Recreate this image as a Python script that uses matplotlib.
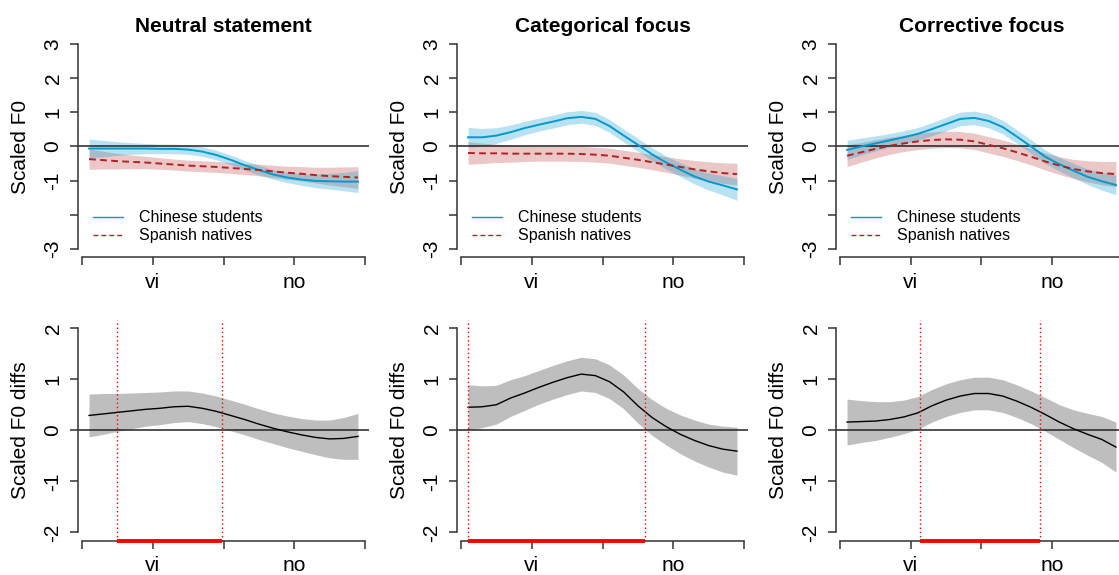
import numpy as np
import matplotlib
matplotlib.use("Agg")
import matplotlib.pyplot as plt

plt.rcParams['font.family'] = ['Liberation Sans', 'DejaVu Sans']

# time axis (normalised, 0..4 with syllables "vi" at 1 and "no" at 3)
t = [0.1, 0.3, 0.5, 0.7, 0.9, 1.1, 1.3, 1.5, 1.7, 1.9,
     2.1, 2.3, 2.5, 2.7, 2.9, 3.1, 3.3, 3.5, 3.7, 3.9]
tick_pos = [0, 1, 2, 3, 4]
tick_lab = ["", "vi", "", "no", ""]

titles = ["Neutral statement", "Categorical focus", "Corrective focus"]
groups = ["Chinese students", "Spanish natives"]

# fitted smooths (scaled F0) and 95% CI half widths
chinese_fit = [
    [-0.06, -0.06, -0.06, -0.06, -0.06, -0.07, -0.07, -0.09, -0.15, -0.25,
     -0.39, -0.55, -0.69, -0.82, -0.91, -0.97, -1.01, -1.02, -1.03, -1.03],
    [0.27, 0.27, 0.32, 0.42, 0.54, 0.64, 0.73, 0.83, 0.87, 0.81,
     0.60, 0.32, 0.05, -0.23, -0.47, -0.68, -0.88, -1.03, -1.14, -1.26],
    [-0.10, 0.00, 0.09, 0.18, 0.27, 0.37, 0.51, 0.66, 0.81, 0.84,
     0.75, 0.57, 0.29, 0.00, -0.30, -0.52, -0.71, -0.89, -1.02, -1.13],
]
chinese_ci = [
    [0.28, 0.24, 0.20, 0.17, 0.15, 0.14, 0.14, 0.14, 0.14, 0.14,
     0.14, 0.14, 0.14, 0.14, 0.15, 0.17, 0.20, 0.23, 0.27, 0.32],
    [0.29, 0.26, 0.23, 0.21, 0.20, 0.19, 0.19, 0.19, 0.19, 0.19,
     0.19, 0.19, 0.19, 0.19, 0.19, 0.20, 0.22, 0.25, 0.28, 0.32],
    [0.28, 0.25, 0.22, 0.20, 0.19, 0.19, 0.19, 0.20, 0.20, 0.20,
     0.20, 0.20, 0.20, 0.20, 0.20, 0.20, 0.21, 0.23, 0.26, 0.29],
]
spanish_fit = [
    [-0.37, -0.40, -0.43, -0.45, -0.47, -0.50, -0.53, -0.56, -0.58, -0.60,
     -0.63, -0.66, -0.69, -0.73, -0.77, -0.80, -0.84, -0.87, -0.89, -0.91],
    [-0.19, -0.20, -0.20, -0.21, -0.21, -0.21, -0.21, -0.21, -0.22, -0.24,
     -0.27, -0.33, -0.39, -0.46, -0.53, -0.60, -0.67, -0.73, -0.78, -0.81],
    [-0.27, -0.17, -0.07, 0.02, 0.09, 0.15, 0.19, 0.21, 0.20, 0.15,
     0.05, -0.05, -0.17, -0.30, -0.44, -0.56, -0.66, -0.73, -0.78, -0.81],
]
spanish_ci = [
    [0.30, 0.26, 0.23, 0.20, 0.18, 0.17, 0.16, 0.16, 0.16, 0.16,
     0.16, 0.16, 0.17, 0.18, 0.19, 0.21, 0.23, 0.26, 0.29, 0.32],
    [0.33, 0.30, 0.27, 0.25, 0.23, 0.22, 0.22, 0.22, 0.22, 0.22,
     0.22, 0.22, 0.22, 0.22, 0.23, 0.24, 0.26, 0.28, 0.30, 0.32],
    [0.32, 0.29, 0.27, 0.25, 0.24, 0.24, 0.24, 0.24, 0.24, 0.24,
     0.24, 0.24, 0.24, 0.24, 0.25, 0.26, 0.28, 0.31, 0.34, 0.37],
]

# difference curves (Chinese - Spanish) and CI half widths
diff_fit = [
    [0.29, 0.32, 0.35, 0.38, 0.41, 0.43, 0.46, 0.47, 0.43, 0.37,
     0.29, 0.21, 0.12, 0.04, -0.03, -0.09, -0.14, -0.17, -0.16, -0.12],
    [0.45, 0.46, 0.50, 0.63, 0.73, 0.84, 0.94, 1.03, 1.10, 1.07,
     0.95, 0.75, 0.48, 0.25, 0.07, -0.08, -0.20, -0.30, -0.37, -0.41],
    [0.16, 0.17, 0.18, 0.21, 0.26, 0.34, 0.48, 0.59, 0.67, 0.72,
     0.72, 0.67, 0.57, 0.45, 0.31, 0.16, 0.03, -0.08, -0.18, -0.33],
]
diff_ci = [
    [0.42, 0.40, 0.37, 0.35, 0.33, 0.32, 0.31, 0.30, 0.30, 0.30,
     0.30, 0.30, 0.30, 0.30, 0.31, 0.32, 0.34, 0.37, 0.41, 0.45],
    [0.44, 0.41, 0.38, 0.36, 0.34, 0.33, 0.33, 0.33, 0.33, 0.33,
     0.33, 0.33, 0.34, 0.35, 0.36, 0.38, 0.40, 0.42, 0.45, 0.47],
    [0.45, 0.41, 0.38, 0.35, 0.33, 0.32, 0.32, 0.32, 0.32, 0.32,
     0.32, 0.32, 0.32, 0.32, 0.33, 0.34, 0.37, 0.41, 0.45, 0.49],
]
# significant difference windows
sig_start = [0.49, 0.10, 1.13]
sig_end = [1.98, 2.60, 2.82]

blue = '#009acd'
red = '#b22222'
axcol = '#333333'
fs = 15

W, H = 1119, 575
fig = plt.figure(figsize=(W / 100, H / 100), dpi=100)

xlim = (-0.052, 4.052)
ax_w = 290.4


def style_axes(ax, ylim, yticks, ylabels, ylab):
    ax.set_xlim(*xlim)
    ax.set_ylim(*ylim)
    for s in ['top', 'right']:
        ax.spines[s].set_visible(False)
    ax.spines['left'].set_bounds(yticks[0], yticks[-1])
    ax.spines['bottom'].set_bounds(tick_pos[0], tick_pos[-1])
    for s in ['left', 'bottom']:
        ax.spines[s].set_color(axcol)
        ax.spines[s].set_linewidth(1.1)
    ax.set_xticks(tick_pos)
    ax.set_xticklabels(tick_lab)
    ax.set_yticks(yticks)
    ax.set_yticklabels(ylabels, rotation=90, va='center')
    ax.tick_params(length=5.8, width=1.1, color=axcol, labelsize=fs, pad=5.5)
    ax.set_ylabel(ylab, fontsize=fs)
    ax.yaxis.set_label_coords(-0.165, 0.5)
    ax.patch.set_alpha(0)


for i in range(3):
    left = (78.3 + 379 * i) / W

    # top row: smooths per group
    ax = fig.add_axes([left, 1 - 256.9 / H, ax_w / W, 220.8 / H])
    cf, cc = np.array(chinese_fit[i]), np.array(chinese_ci[i])
    sf, sc = np.array(spanish_fit[i]), np.array(spanish_ci[i])
    ax.fill_between(t, sf - sc, sf + sc, color=red, alpha=0.25, lw=0)
    ax.fill_between(t, cf - cc, cf + cc, color=blue, alpha=0.28, lw=0)
    ax.axhline(0, color='#222222', lw=1.1)
    ax.plot(t, cf, color=blue, lw=1.4, label=groups[0])
    ax.plot(t, sf, color=red, lw=1.4, ls=(0, (3.5, 2.2)), label=groups[1])
    style_axes(ax, (-3.24, 3.24), [-3, -2, -1, 0, 1, 2, 3],
               ["-3", "", "-1", "0", "1", "2", "3"], "Scaled F0")
    ax.set_title(titles[i], fontsize=fs, fontweight='bold', pad=2)
    leg = ax.legend(loc='center left', bbox_to_anchor=(0.0506, 0.136),
                    frameon=False, fontsize=11.5, handlelength=1.9,
                    handletextpad=1.0, labelspacing=0.2, borderpad=0,
                    borderaxespad=0)
    for h in leg.get_lines():
        h.set_linewidth(1.0)

    # bottom row: difference curve
    ax = fig.add_axes([left, 1 - 540.5 / H, ax_w / W, 220.5 / H])
    df, dc = np.array(diff_fit[i]), np.array(diff_ci[i])
    ax.fill_between(t, df - dc, df + dc, color='#bebebe', lw=0)
    ax.axhline(0, color='#222222', lw=1.1)
    ax.plot(t, df, color='black', lw=1.0)
    for xv in (sig_start[i], sig_end[i]):
        ax.axvline(xv, color='red', lw=1.0, ls=(0, (1, 2)))
    ax.plot([sig_start[i], sig_end[i]], [-2.16, -2.16], color='red', lw=2.8,
            solid_capstyle='butt', clip_on=False, zorder=5)
    style_axes(ax, (-2.16, 2.16), [-2, -1, 0, 1, 2],
               ["-2", "-1", "0", "1", "2"], "Scaled F0 diffs")

fig.savefig("out.png", dpi=100)
